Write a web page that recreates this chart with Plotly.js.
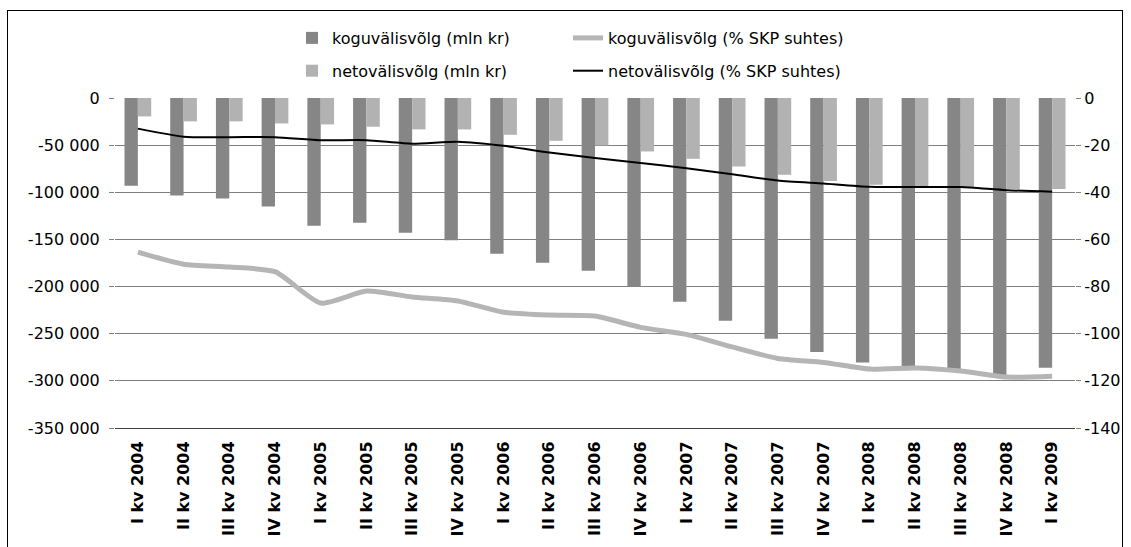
<!DOCTYPE html>
<html>
<head>
<meta charset="utf-8">
<script src="https://cdn.plot.ly/plotly-3.0.1.min.js"></script>
<style>
  html, body { margin: 0; padding: 0; background: #fff; overflow: hidden; }
  #chart { width: 1131px; height: 547px; position: absolute; left: 0; top: 0; }
  #frame { position: absolute; left: 7px; top: 10px; width: 1114px; height: 600px; border: 1px solid #000; pointer-events: none; }
</style>
</head>
<body>
<div id="chart"></div>
<div id="frame"></div>
<script>
const categories = ['I kv 2004','II kv 2004','III kv 2004','IV kv 2004',
  'I kv 2005','II kv 2005','III kv 2005','IV kv 2005',
  'I kv 2006','II kv 2006','III kv 2006','IV kv 2006',
  'I kv 2007','II kv 2007','III kv 2007','IV kv 2007',
  'I kv 2008','II kv 2008','III kv 2008','IV kv 2008',
  'I kv 2009'];

// koguvälisvõlg (mln kr)
const grossDebtMln = [-93000,-103500,-106700,-115200,-135400,-132200,-142800,-150900,
  -165100,-174700,-183200,-200200,-216100,-236300,-255400,-269300,
  -280500,-285200,-288000,-294000,-286200];
// netovälisvõlg (mln kr)
const netDebtMln = [-19500,-24800,-24800,-27000,-28000,-30500,-33300,-33300,
  -39000,-45400,-50300,-56700,-64500,-72700,-81500,-87900,
  -92100,-93900,-95000,-96400,-96400];
// koguvälisvõlg (% SKP suhtes)
const grossDebtPct = [-65.4,-70.5,-71.7,-73.7,-87.0,-81.9,-84.4,-86.1,
  -90.9,-92.1,-92.5,-97.3,-100.3,-105.6,-110.5,-112.2,
  -115.0,-114.5,-115.8,-118.4,-118.0];
// netovälisvõlg (% SKP suhtes)
const netDebtPct = [-13.0,-16.4,-16.6,-16.6,-17.9,-17.9,-19.4,-18.6,
  -20.3,-23.1,-25.5,-27.6,-29.8,-32.3,-35.0,-36.3,
  -37.7,-37.8,-37.8,-39.1,-39.8];

const leftTickVals = [0,-50000,-100000,-150000,-200000,-250000,-300000,-350000];
const leftTickText = ['0','-50 000','-100 000','-150 000','-200 000','-250 000','-300 000','-350 000'];
const rightTickVals = [0,-20,-40,-60,-80,-100,-120,-140];
const rightTickText = ['0','-20','-40','-60','-80','-100','-120','-140'];

const FONT = 'DejaVu Sans, Arial, sans-serif';
const PL = 115, PR = 1075, PT = 98, PB = 428;
const px2x = (p) => (p - PL) / (PR - PL);
const px2y = (p) => 1 + (PT - p) / (PB - PT);

const traces = [
  {
    type: 'bar', name: 'koguvälisvõlg (mln kr)', x: categories, y: grossDebtMln,
    marker: { color: '#868686', line: { width: 0 } },
    legend: 'legend', legendgroup: 'a', yaxis: 'y'
  },
  {
    type: 'bar', name: 'netovälisvõlg (mln kr)', x: categories, y: netDebtMln,
    marker: { color: '#b2b2b2', line: { width: 0 } },
    legend: 'legend', legendgroup: 'b', yaxis: 'y'
  },
  {
    type: 'scatter', mode: 'lines', name: 'koguvälisvõlg (% SKP suhtes)',
    x: categories, y: grossDebtPct, yaxis: 'y2',
    line: { color: '#b5b5b5', width: 5, shape: 'spline', smoothing: 0.6 },
    legend: 'legend2', legendgroup: 'c'
  },
  {
    type: 'scatter', mode: 'lines', name: 'netovälisvõlg (% SKP suhtes)',
    x: categories, y: netDebtPct, yaxis: 'y2',
    line: { color: '#000000', width: 2, shape: 'spline', smoothing: 0.6 },
    legend: 'legend2', legendgroup: 'd'
  }
];

const legendBase = {
  xanchor: 'left', yanchor: 'top', orientation: 'v',
  traceorder: 'grouped', tracegroupgap: 9,
  bgcolor: 'rgba(0,0,0,0)', borderwidth: 0,
  font: { family: FONT, size: 16, color: '#000' }
};

const layout = {
  width: 1131, height: 547,
  margin: { l: PL, r: 1131 - PR, t: PT, b: 547 - PB, pad: 0, autoexpand: false },
  paper_bgcolor: '#ffffff', plot_bgcolor: '#ffffff',
  font: { family: FONT, size: 16, color: '#000' },
  barmode: 'group', bargap: 0.416, bargroupgap: 0,
  showlegend: true,
  legend: Object.assign({}, legendBase, { x: px2x(292), y: px2y(21) }),
  legend2: Object.assign({}, legendBase, { x: px2x(568), y: px2y(21) }),
  xaxis: {
    type: 'category', tickangle: -90, tickmode: 'linear', dtick: 1,
    tickfont: { family: FONT, size: 16, color: '#000', weight: 'bold' },
    showgrid: false, ticks: '', ticklabelstandoff: 6,
    showline: true, linecolor: '#404040', linewidth: 1,
    zeroline: false, automargin: false
  },
  yaxis: {
    range: [-350000, 0], tickmode: 'array', tickvals: leftTickVals, ticktext: leftTickText,
    showgrid: true, gridcolor: '#7f7f7f', gridwidth: 1,
    ticks: 'outside', ticklen: 5, tickcolor: '#7f7f7f', ticklabelstandoff: 6,
    zeroline: false, showline: false, automargin: false,
    tickfont: { family: FONT, size: 16, color: '#000' }
  },
  yaxis2: {
    overlaying: 'y', side: 'right', range: [-140, 0],
    tickmode: 'array', tickvals: rightTickVals, ticktext: rightTickText,
    showgrid: false, ticks: 'outside', ticklen: 5, tickcolor: '#7f7f7f', ticklabelstandoff: 0,
    zeroline: false, showline: false, automargin: false,
    tickfont: { family: FONT, size: 16, color: '#000' }
  }
};

Plotly.newPlot('chart', traces, layout, { displayModeBar: false, staticPlot: true });
</script>
</body>
</html>
